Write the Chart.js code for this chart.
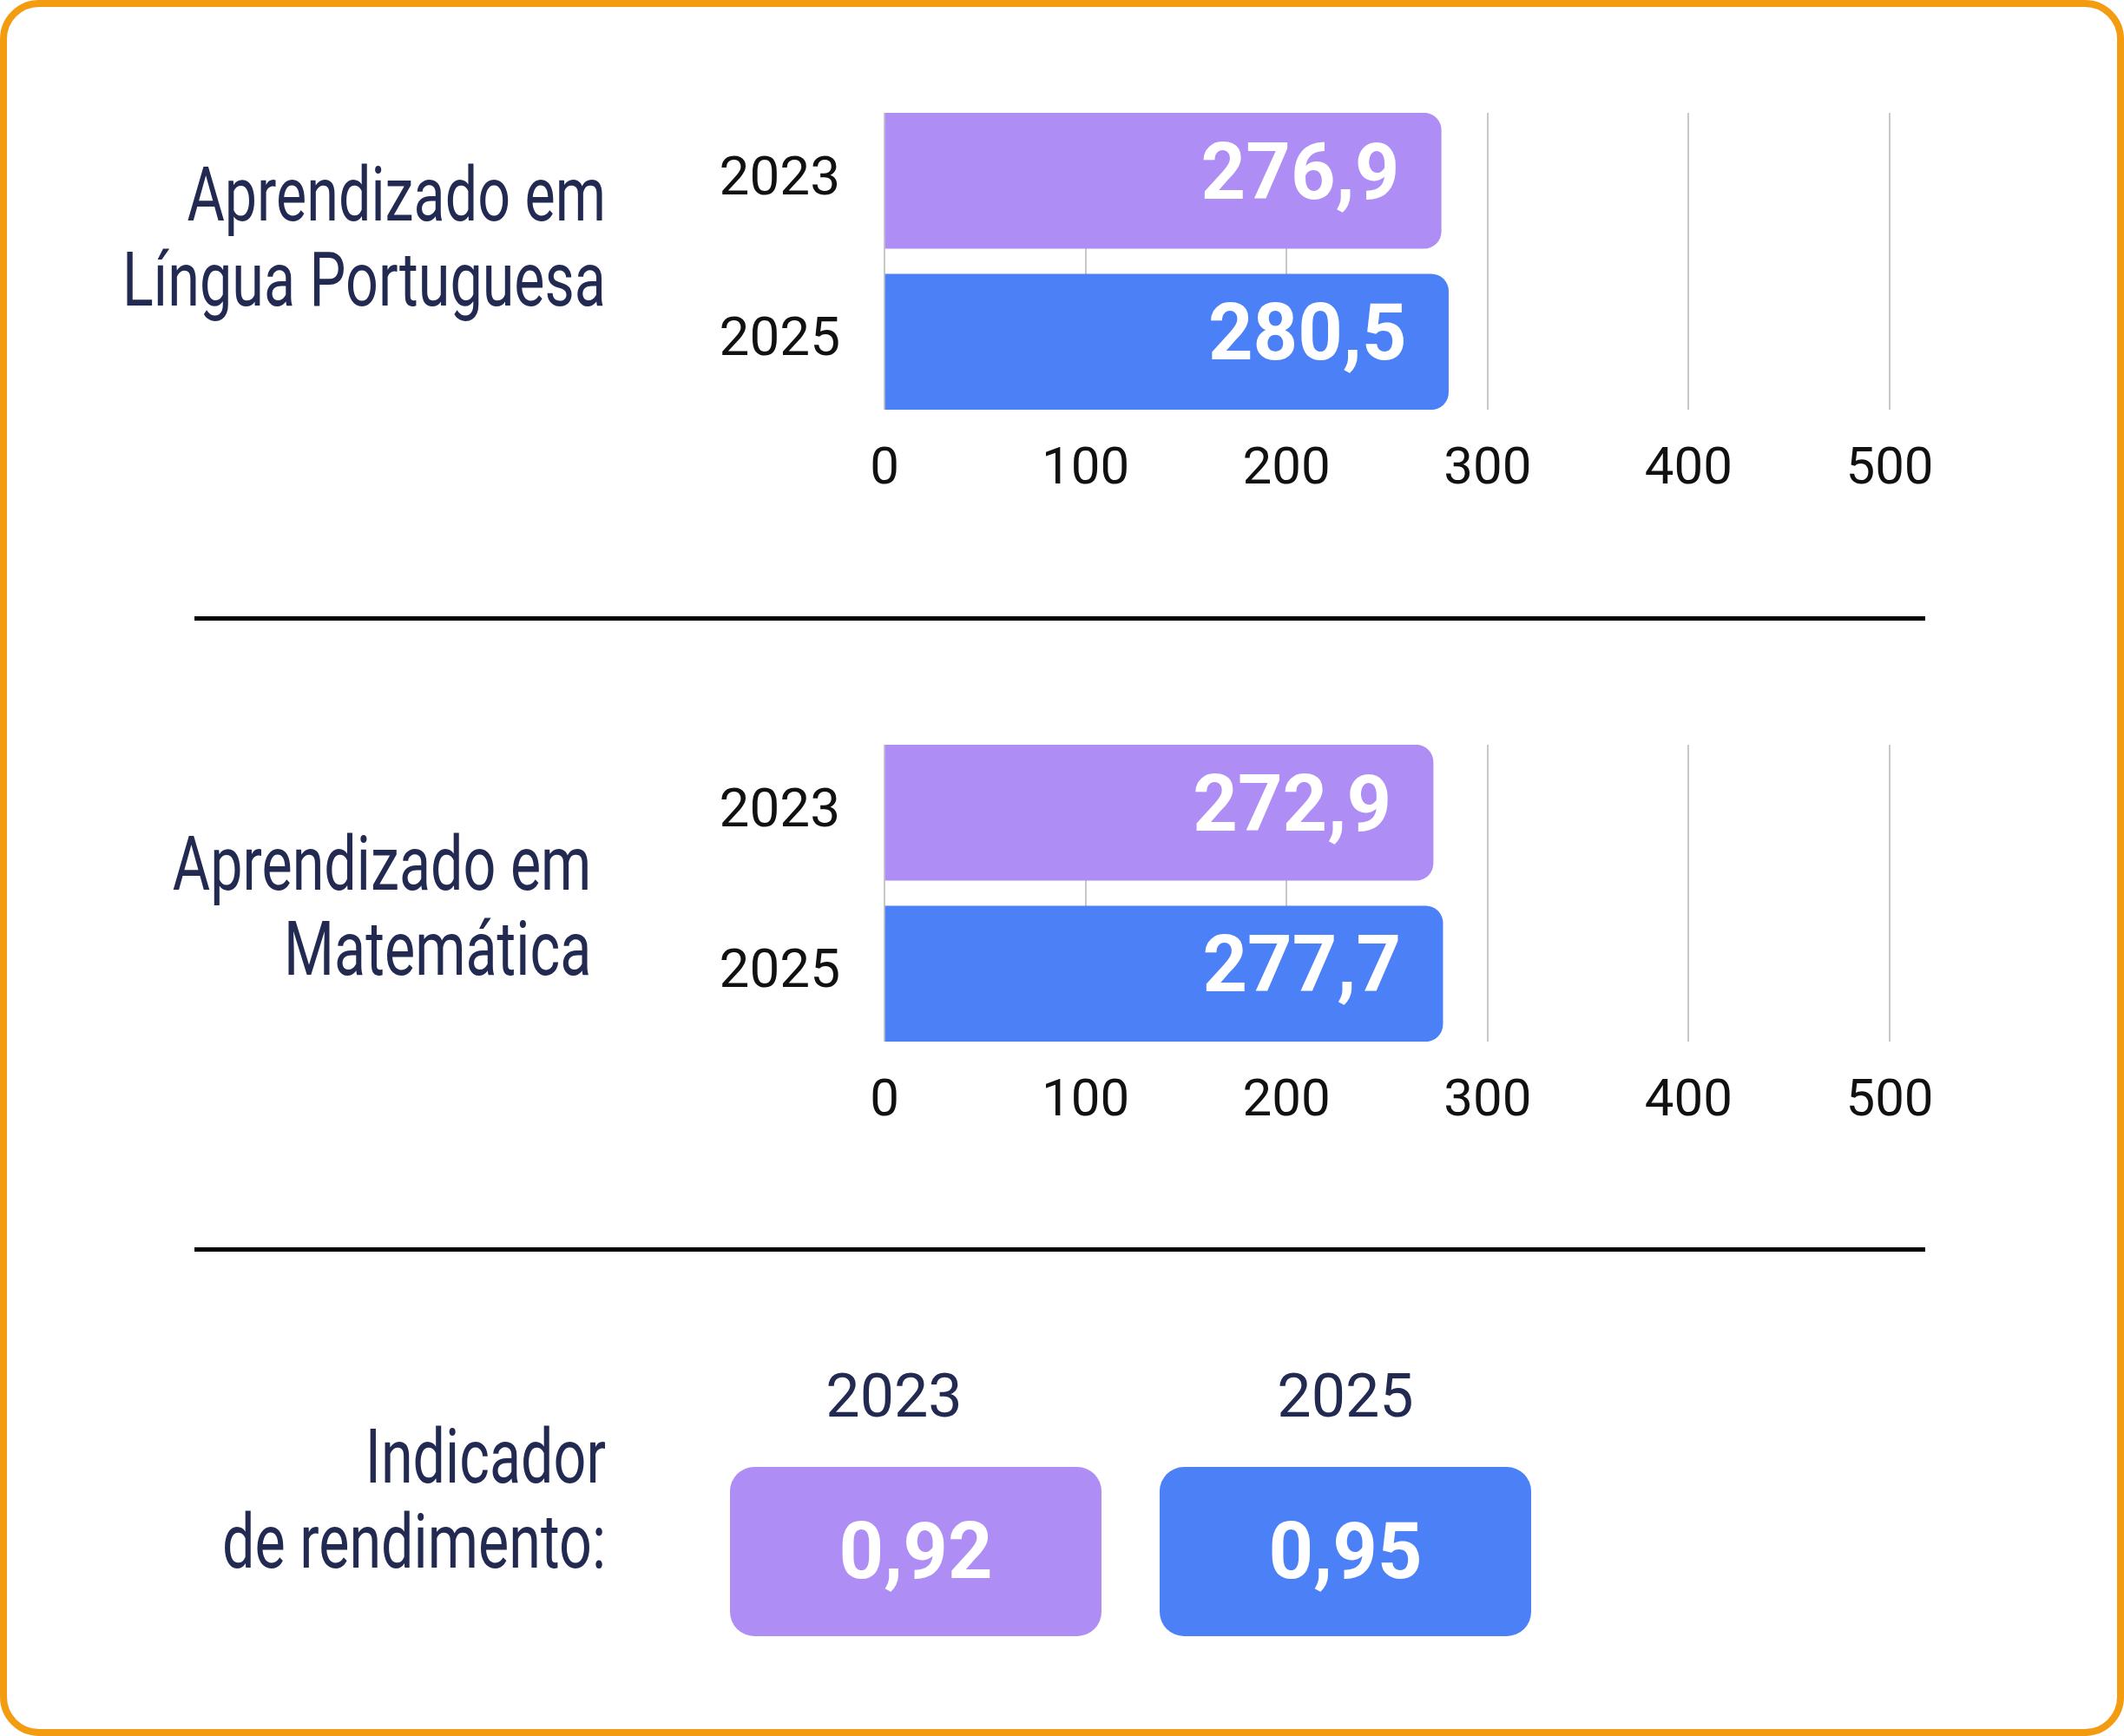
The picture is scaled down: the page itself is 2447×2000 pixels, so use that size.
<!DOCTYPE html>
<html>
<head>
  <meta charset="utf-8">
  <title>Aprendizado e indicador de rendimento</title>
  <script src="https://cdn.jsdelivr.net/npm/chart.js@4.4.1/dist/chart.umd.min.js"></script>
  <style>
    html, body { margin: 0; padding: 0; background: #fff; }
    body { width: 2447px; height: 2000px; position: relative; overflow: hidden; }
    /* orange rounded frame */
    #frame {
      position: absolute; left: 0; top: 0; width: 2447px; height: 2000px;
      box-sizing: border-box; border: 8px solid #f39c12; border-radius: 45px;
    }
    /* no condensed face installed, so squeeze Roboto; right edge sits at x=698 */
    .title {
      position: absolute; left: -402px; width: 1100px; text-align: right; white-space: nowrap;
      box-sizing: border-box;
      font-family: Roboto, sans-serif; font-size: 88px; line-height: 98px; color: #222a52;
      transform: scaleX(0.755); transform-origin: right top;
    }
    .sep { position: absolute; left: 224px; width: 1994px; height: 5px; background: #000; }
    .chart-box { position: absolute; left: 700px; width: 1560px; height: 452px; }
    .year {
      position: absolute; width: 300px; text-align: center;
      font-family: Roboto, sans-serif; font-size: 70px; line-height: 70px; color: #222a52;
    }
    .ind-box {
      position: absolute; top: 1690px; width: 428px; height: 195px; border-radius: 28px;
      display: flex; align-items: center; justify-content: center;
      font-family: Roboto, sans-serif; font-weight: bold; font-size: 90px; color: #fff;
    }
  </style>
</head>
<body>
  <div id="frame"></div>

  <div class="title" style="top:175px">Aprendizado em<br>Língua Portuguesa</div>
  <div class="chart-box" style="top:130px"><canvas id="lpChart"></canvas></div>

  <div class="sep" style="top:710px"></div>

  <div class="title" style="top:946px; padding-right:22px">Aprendizado em<br>Matemática</div>
  <div class="chart-box" style="top:858px"><canvas id="matChart"></canvas></div>

  <div class="sep" style="top:1437px"></div>

  <div class="title" style="top:1629px">Indicador<br>de rendimento:</div>
  <div id="indicator"></div>

  <script>
    // data
    var years = ['2023', '2025'];
    var lpScores = [276.9, 280.5];
    var matScores = [272.9, 277.7];
    var indicatorValues = [0.92, 0.95];
    var xTicks = [0, 100, 200, 300, 400, 500];

    var barColors = ['#ae8df4', '#4c80f7'];

    // y range so the two 156px bars sit flush with the plot edges
    var Y_MIN = -0.4216, Y_MAX = 1.4216;

    function formatBR(v, digits) {
      return v.toFixed(digits).replace('.', ',');
    }

    // white value labels inside the bar ends
    var barLabels = {
      id: 'barLabels',
      afterDatasetsDraw: function(chart) {
        var ctx = chart.ctx;
        var meta = chart.getDatasetMeta(0);
        var data = chart.data.datasets[0].data;
        ctx.save();
        ctx.font = 'bold 90px Roboto';
        ctx.fillStyle = '#fff';
        ctx.textAlign = 'right';
        ctx.textBaseline = 'middle';
        meta.data.forEach(function(bar, i) {
          ctx.fillText(formatBR(data[i].x, 1), bar.x - 48, bar.y - 2);
        });
        ctx.restore();
      }
    };

    function makeChart(id, scores) {
      var ctx = document.getElementById(id).getContext('2d');
      return new Chart(ctx, {
        type: 'bar',
        data: {
          datasets: [{
            data: years.map(function(_, i) { return { x: scores[i], y: i }; }),
            backgroundColor: barColors,
            borderRadius: 20,
            borderSkipped: 'start',
            barThickness: 156
          }]
        },
        plugins: [barLabels],
        options: {
          indexAxis: 'y',
          responsive: true,
          maintainAspectRatio: false,
          animation: false,
          layout: { padding: { left: 0, right: 83, top: 0, bottom: 0 } },
          plugins: { legend: { display: false }, tooltip: { enabled: false } },
          scales: {
            x: {
              type: 'linear',
              min: xTicks[0],
              max: xTicks[xTicks.length - 1],
              afterBuildTicks: function(scale) {
                scale.ticks = xTicks.map(function(v) { return { value: v }; });
              },
              afterFit: function(scale) {
                scale.height = 110;
                scale.paddingLeft = 0;
                scale.paddingRight = 0;
              },
              grid: { color: '#c8c8c8', lineWidth: 2, drawTicks: false },
              border: { display: false },
              ticks: {
                padding: 34,
                color: '#111',
                font: { family: 'Roboto', size: 60 }
              }
            },
            y: {
              type: 'linear',
              reverse: true,
              offset: false,
              bounds: 'data',
              min: Y_MIN,
              max: Y_MAX,
              afterBuildTicks: function(scale) {
                scale.ticks = years.map(function(_, i) { return { value: i }; });
                scale.min = Y_MIN;
                scale.max = Y_MAX;
              },
              afterFit: function(scale) {
                scale.width = 319;
                scale.paddingTop = 0;
                scale.paddingBottom = 0;
              },
              grid: { display: false, drawTicks: false },
              border: { display: false },
              ticks: {
                padding: 51,
                color: '#111',
                font: { family: 'Roboto', size: 62 },
                callback: function(value) { return years[value]; }
              }
            }
          }
        }
      });
    }

    makeChart('lpChart', lpScores);
    makeChart('matChart', matScores);

    // indicator boxes with the year above each
    var boxLefts = [841, 1336];
    var yearCenters = [1030, 1550];
    var ind = document.getElementById('indicator');
    years.forEach(function(yr, i) {
      var label = document.createElement('div');
      label.className = 'year';
      label.style.left = (yearCenters[i] - 150) + 'px';
      label.style.top = '1573px';
      label.textContent = yr;
      ind.appendChild(label);

      var box = document.createElement('div');
      box.className = 'ind-box';
      box.style.left = boxLefts[i] + 'px';
      box.style.background = barColors[i];
      box.textContent = formatBR(indicatorValues[i], 2);
      ind.appendChild(box);
    });
  </script>
</body>
</html>
